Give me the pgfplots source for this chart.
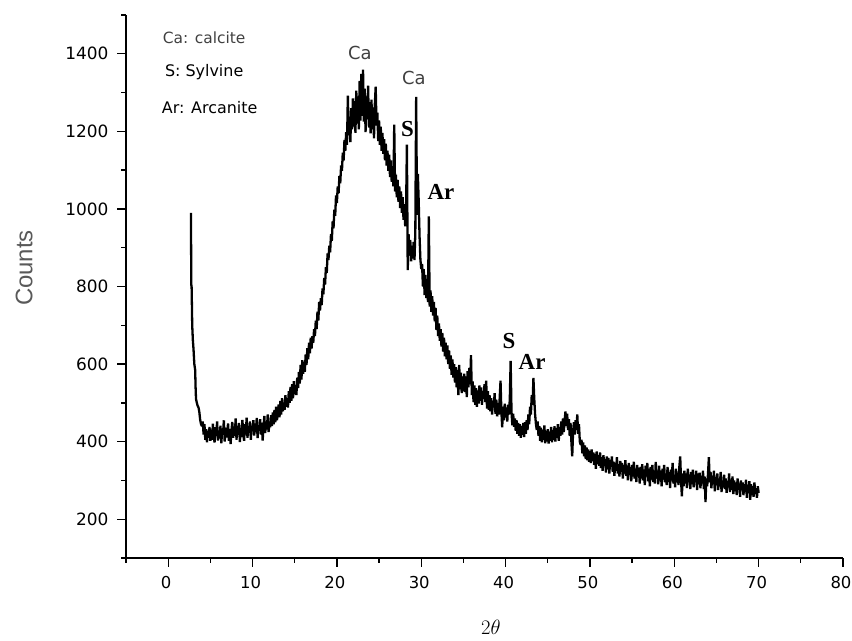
\documentclass[border=0pt]{standalone}
\usepackage{fontspec}
\setmainfont{DejaVu Sans}
\newfontfamily\arialf{Liberation Sans}
\newfontfamily\timesf{Liberation Serif}
\usepackage{pgfplots}
\pgfplotsset{compat=1.18}
\begin{document}
\begin{tikzpicture}
\path[use as bounding box] (0,0) rectangle (852bp,641bp);
\begin{axis}[
  at={(126bp,83bp)}, anchor=south west,
  scale only axis, width=717bp, height=543bp,
  xmin=-5, xmax=80, ymin=100, ymax=1500,
  axis x line*=bottom, axis y line*=left,
  axis line style={-, line width=1.3bp, black},
  xtick={0,10,...,80}, ytick={200,400,...,1400},
  minor xtick={-5,5,...,75}, minor ytick={100,300,...,1500},
  tick align=outside,
  major tick length=9bp, minor tick length=5bp,
  every tick/.style={black, line width=1.3bp},
  yticklabel style={xshift=-5bp, font=\fontsize{17}{20}\selectfont},
  xticklabel style={yshift=-6bp, xshift=-2bp, font=\fontsize{16.5}{20}\selectfont},
  /pgf/number format/assume math mode=true,
  /pgf/number format/1000 sep={},
  xlabel={$2\theta$},
  xlabel style={at={(axis description cs:0.509,-0.127)}, anchor=center, font=\fontsize{22}{26}\selectfont},
  ylabel={Counts},
  ylabel style={at={(axis description cs:-0.142,0.534)}, anchor=center, font=\arialf\fontsize{24}{28}\selectfont, text=black!65},
  clip=false,
]
\addplot[black, line width=2.3bp, line join=miter, miter limit=2] coordinates {
(2.70,990) (2.74,805) (2.78,798) (2.85,700) (2.93,660) (3.00,640) (3.10,600) (3.20,585) (3.25,540) (3.30,510)
(3.40,500) (3.50,492) (3.60,488) (3.70,475) (3.80,455) (3.90,445)
(4.0,440) (4.1,452) (4.2,418) (4.3,445) (4.4,405) (4.5,432) (4.6,398) (4.7,428) (4.8,410) (4.9,438)
(5.0,402) (5.1,431) (5.2,405) (5.3,446) (5.4,412) (5.5,398) (5.6,437) (5.7,415) (5.8,452) (5.9,403)
(6.0,426) (6.1,409) (6.2,441) (6.3,396) (6.4,430) (6.5,418) (6.6,455) (6.7,400) (6.8,436) (6.9,411)
(7.0,425) (7.1,447) (7.2,402) (7.3,433) (7.4,394) (7.5,428) (7.6,451) (7.7,410) (7.8,439) (7.9,415)
(8.0,460) (8.1,405) (8.2,440) (8.3,418) (8.4,448) (8.5,399) (8.6,435) (8.7,412) (8.8,456) (8.9,420)
(9.0,402) (9.1,445) (9.2,418) (9.3,462) (9.4,410) (9.5,438) (9.6,424) (9.7,452) (9.8,405) (9.9,441)
(10.0,428) (10.1,455) (10.2,416) (10.3,447) (10.4,425) (10.5,461) (10.6,409) (10.7,440) (10.8,430) (10.9,458)
(11.0,418) (11.1,449) (11.2,403) (11.3,438) (11.4,466) (11.5,422) (11.6,452) (11.7,431) (11.8,470) (11.9,425)
(12.0,447) (12.1,437) (12.2,468) (12.3,440) (12.4,475) (12.5,445) (12.6,482) (12.7,450) (12.8,490) (12.9,455)
(13.0,478) (13.1,496) (13.2,463) (13.3,505) (13.4,470) (13.5,512) (13.6,478) (13.7,501) (13.8,482) (13.9,520)
(14.0,490) (14.1,512) (14.2,488) (14.3,530) (14.4,500) (14.5,541) (14.6,505) (14.7,548) (14.8,512) (14.9,556)
(15.0,522) (15.1,546) (15.2,520) (15.3,565) (15.4,538) (15.5,580) (15.6,550) (15.7,598) (15.8,560) (15.9,610)
(16.0,575) (16.1,605) (16.2,580) (16.3,625) (16.4,598) (16.5,641) (16.6,612) (16.7,655) (16.8,628) (16.9,668)
(17.0,640) (17.1,672) (17.2,655) (17.3,690) (17.4,672) (17.5,712) (17.6,690) (17.7,735) (17.8,712) (17.9,760)
(18.0,738) (18.1,770) (18.2,752) (18.3,795) (18.4,780) (18.5,822) (18.6,805) (18.7,850) (18.8,835) (18.9,885)
(19.0,868) (19.1,905) (19.2,888) (19.3,935) (19.4,918) (19.5,968) (19.6,950) (19.7,998) (19.8,982) (19.9,1035)
(20.0,1015) (20.1,1058) (20.2,1040) (20.3,1085) (20.4,1066) (20.5,1112) (20.6,1098) (20.7,1145) (20.8,1125) (20.9,1178)
(21.0,1150) (21.1,1198) (21.2,1165) (21.3,1292) (21.4,1190) (21.5,1238) (21.6,1172) (21.7,1260) (21.8,1205) (21.9,1285)
(22.0,1212) (22.1,1278) (22.2,1196) (22.3,1305) (22.4,1220) (22.5,1290) (22.6,1205) (22.7,1330) (22.8,1228) (22.9,1348)
(23.0,1240) (23.1,1359) (23.2,1225) (23.3,1310) (23.4,1198) (23.5,1290) (23.6,1232) (23.7,1318) (23.8,1210) (23.9,1275)
(24.0,1195) (24.1,1282) (24.2,1205) (24.3,1262) (24.4,1182) (24.5,1270) (24.6,1315) (24.7,1215) (24.8,1248) (24.9,1175)
(25.0,1228) (25.1,1165) (25.2,1212) (25.3,1150) (25.4,1196) (25.5,1142) (25.6,1180) (25.7,1125) (25.8,1168) (25.9,1112)
(26.0,1150) (26.1,1098) (26.2,1140) (26.3,1082) (26.4,1125) (26.5,1070) (26.6,1110) (26.7,1058) (26.8,1217) (26.9,1045)
(27.0,1088) (27.1,1030) (27.2,1075) (27.3,1018) (27.4,1058) (27.5,1002) (27.6,1045) (27.7,990) (27.8,1030) (27.9,972)
(28.0,1012) (28.1,955) (28.2,990) (28.3,1166) (28.4,842) (28.5,935) (28.6,880) (28.7,920) (28.8,865) (28.9,905)
(29.0,872) (29.1,915) (29.2,868) (29.3,940) (29.4,1289) (29.5,985) (29.6,1090) (29.7,1020) (29.8,930) (29.9,870)
(30.0,845) (30.1,858) (30.2,800) (30.3,845) (30.4,778) (30.5,830) (30.6,770) (30.7,812) (30.8,760) (30.9,981)
(31.0,748) (31.1,790) (31.2,735) (31.3,775) (31.4,725) (31.5,760) (31.6,710) (31.7,745) (31.8,688) (31.9,725)
(32.0,672) (32.1,705) (32.2,660) (32.3,690) (32.4,645) (32.5,680) (32.6,632) (32.7,668) (32.8,620) (32.9,655)
(33.0,612) (33.1,648) (33.2,600) (33.3,635) (33.4,588) (33.5,622) (33.6,572) (33.7,612) (33.8,565) (33.9,600)
(34.0,552) (34.1,592) (34.2,540) (34.3,585) (34.4,520) (34.5,598) (34.6,535) (34.7,578) (34.8,525) (34.9,568)
(35.0,530) (35.1,575) (35.2,528) (35.3,568) (35.4,515) (35.5,582) (35.6,540) (35.7,590) (35.8,548) (35.9,623)
(36.0,520) (36.1,555) (36.2,502) (36.3,545) (36.4,495) (36.5,538) (36.6,490) (36.7,532) (36.8,498) (36.9,545)
(37.0,505) (37.1,540) (37.2,495) (37.3,530) (37.4,510) (37.5,548) (37.6,502) (37.7,557) (37.8,485) (37.9,530)
(38.0,482) (38.1,520) (38.2,478) (38.3,512) (38.4,470) (38.5,505) (38.6,488) (38.7,525) (38.8,472) (38.9,508)
(39.0,465) (39.1,500) (39.2,470) (39.3,512) (39.4,557) (39.5,478) (39.6,437) (39.7,490) (39.8,455) (39.9,498)
(40.0,462) (40.1,488) (40.2,452) (40.3,495) (40.4,470) (40.5,510) (40.6,608) (40.7,478) (40.8,442) (40.9,472)
(41.0,438) (41.1,460) (41.2,428) (41.3,455) (41.4,420) (41.5,448) (41.6,415) (41.7,445) (41.8,410) (41.9,440)
(42.0,418) (42.1,448) (42.2,412) (42.3,450) (42.4,420) (42.5,455) (42.6,430) (42.7,470) (42.8,445) (42.9,490)
(43.0,470) (43.1,520) (43.2,495) (43.3,564) (43.4,510) (43.5,470) (43.6,445) (43.7,430) (43.8,452) (43.9,415)
(44.0,440) (44.1,402) (44.2,436) (44.3,398) (44.4,430) (44.5,405) (44.6,442) (44.7,396) (44.8,428) (44.9,400)
(45.0,432) (45.1,395) (45.2,425) (45.3,402) (45.4,438) (45.5,398) (45.6,430) (45.7,405) (45.8,440) (45.9,400)
(46.0,435) (46.1,410) (46.2,445) (46.3,402) (46.4,438) (46.5,415) (46.6,452) (46.7,418) (46.8,460) (46.9,425)
(47.0,455) (47.1,478) (47.2,440) (47.3,472) (47.4,430) (47.5,458) (47.6,415) (47.7,448) (47.8,400) (47.9,362)
(48.0,425) (48.1,450) (48.2,418) (48.3,455) (48.4,430) (48.5,470) (48.6,420) (48.7,445) (48.8,400) (48.9,392)
(49.0,405) (49.1,370) (49.2,398) (49.3,362) (49.4,390) (49.5,355) (49.6,385) (49.7,352) (49.8,380) (49.9,348)
(50.0,376) (50.1,345) (50.2,380) (50.3,350) (50.4,372) (50.5,340) (50.6,368) (50.7,330) (50.8,375) (50.9,342)
(51.0,365) (51.1,338) (51.2,372) (51.3,332) (51.4,360) (51.5,325) (51.6,365) (51.7,338) (51.8,355) (51.9,320)
(52.0,362) (52.1,330) (52.2,358) (52.3,318) (52.4,352) (52.5,335) (52.6,362) (52.7,322) (52.8,348) (52.9,312)
(53.0,345) (53.1,325) (53.2,360) (53.3,318) (53.4,342) (53.5,310) (53.6,350) (53.7,322) (53.8,345) (53.9,305)
(54.0,340) (54.1,318) (54.2,352) (54.3,312) (54.4,338) (54.5,300) (54.6,345) (54.7,315) (54.8,335) (54.9,298)
(55.0,340) (55.1,310) (55.2,348) (55.3,305) (55.4,330) (55.5,296) (55.6,340) (55.7,312) (55.8,332) (55.9,292)
(56.0,335) (56.1,305) (56.2,342) (56.3,300) (56.4,328) (56.5,288) (56.6,338) (56.7,310) (56.8,345) (56.9,298)
(57.0,330) (57.1,285) (57.2,335) (57.3,302) (57.4,340) (57.5,296) (57.6,325) (57.7,292) (57.8,348) (57.9,305)
(58.0,322) (58.1,290) (58.2,338) (58.3,300) (58.4,325) (58.5,285) (58.6,330) (58.7,302) (58.8,340) (58.9,295)
(59.0,318) (59.1,288) (59.2,335) (59.3,296) (59.4,322) (59.5,280) (59.6,328) (59.7,300) (59.8,345) (59.9,292)
(60.0,315) (60.1,282) (60.2,330) (60.3,295) (60.4,320) (60.5,288) (60.6,335) (60.7,362) (60.8,300) (60.9,259)
(61.0,318) (61.1,285) (61.2,325) (61.3,292) (61.4,318) (61.5,280) (61.6,330) (61.7,295) (61.8,315) (61.9,278)
(62.0,322) (62.1,290) (62.2,328) (62.3,282) (62.4,315) (62.5,295) (62.6,325) (62.7,275) (62.8,318) (62.9,290)
(63.0,320) (63.1,280) (63.2,312) (63.3,292) (63.4,325) (63.5,278) (63.6,310) (63.7,244) (63.8,305) (63.9,285)
(64.0,318) (64.1,360) (64.2,295) (64.3,322) (64.4,280) (64.5,312) (64.6,290) (64.7,325) (64.8,272) (64.9,308)
(65.0,288) (65.1,318) (65.2,275) (65.3,305) (65.4,285) (65.5,322) (65.6,270) (65.7,300) (65.8,282) (65.9,315)
(66.0,278) (66.1,305) (66.2,268) (66.3,298) (66.4,282) (66.5,318) (66.6,270) (66.7,302) (66.8,275) (66.9,310)
(67.0,265) (67.1,300) (67.2,272) (67.3,295) (67.4,262) (67.5,305) (67.6,278) (67.7,292) (67.8,258) (67.9,300)
(68.0,275) (68.1,295) (68.2,262) (68.3,290) (68.4,270) (68.5,302) (68.6,255) (68.7,288) (68.8,268) (68.9,298)
(69.0,250) (69.1,290) (69.2,262) (69.3,285) (69.4,258) (69.5,295) (69.6,265) (69.7,280) (69.8,255) (69.9,285)
(70.0,268)
};
\node[anchor=west, inner sep=0pt, font=\fontsize{15.5}{18}\selectfont, text=black!75] at (axis cs:-0.65,1441) {Ca: calcite};
\node[anchor=west, inner sep=0pt, font=\fontsize{16}{18}\selectfont] at (axis cs:-0.4,1354) {S: Sylvine};
\node[anchor=west, inner sep=0pt, font=\fontsize{16}{18}\selectfont] at (axis cs:-0.77,1261) {Ar: Arcanite};
\node[inner sep=0pt, font=\fontsize{18}{20}\selectfont, text=black!75] at (axis cs:22.72,1401) {Ca};
\node[inner sep=0pt, font=\fontsize{18}{20}\selectfont, text=black!75] at (axis cs:29.14,1337) {Ca};
\node[inner sep=0pt, font=\timesf\bfseries\fontsize{23}{26}\selectfont] at (axis cs:28.38,1206) {S};
\node[inner sep=0pt, font=\timesf\bfseries\fontsize{23}{26}\selectfont] at (axis cs:32.33,1043) {Ar};
\node[inner sep=0pt, font=\timesf\bfseries\fontsize{23}{26}\selectfont] at (axis cs:40.41,660) {S};
\node[inner sep=0pt, font=\timesf\bfseries\fontsize{23}{26}\selectfont] at (axis cs:43.14,606) {Ar};
\end{axis}
\end{tikzpicture}
\end{document}
